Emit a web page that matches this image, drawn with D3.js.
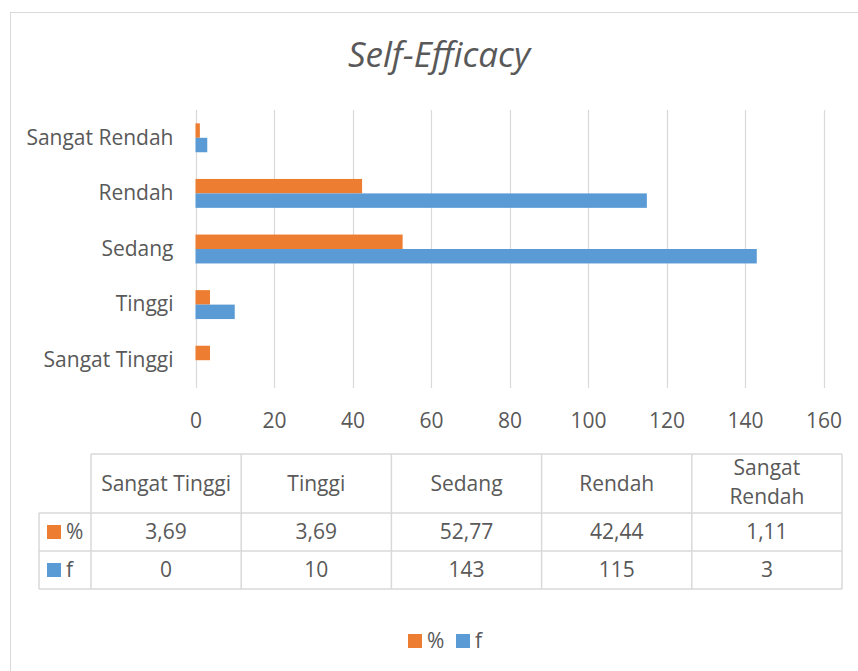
<!DOCTYPE html>
<html>
<head>
<meta charset="utf-8">
<script src="https://cdn.jsdelivr.net/npm/d3@7"></script>
<style>
  body { margin: 0; background: #fff; }
  text { font-family: "Open Sans", sans-serif; fill: #595959; }
</style>
</head>
<body>
<div id="chart"></div>
<script>
// data (table order, as in the Excel sheet)
const categories = ["Sangat Tinggi", "Tinggi", "Sedang", "Rendah", "Sangat Rendah"];
const seriesNames = ["%", "f"];
const percentValues = [3.69, 3.69, 52.77, 42.44, 1.11];
const freqValues = [0, 10, 143, 115, 3];
const percentLabels = ["3,69", "3,69", "52,77", "42,44", "1,11"];
const freqLabels = ["0", "10", "143", "115", "3"];
const xTicks = [0, 20, 40, 60, 80, 100, 120, 140, 160];
const colors = ["#ED7D31", "#5B9BD5"];

const width = 858, height = 671;
const fs = 21;
const svg = d3.select("#chart").append("svg")
    .attr("width", width)
    .attr("height", height);

// chart border (runs past the right / bottom edge)
svg.append("rect")
    .attr("x", 10.5).attr("y", 12.5)
    .attr("width", 870).attr("height", 680)
    .attr("fill", "#fff")
    .attr("stroke", "#d9d9d9");

svg.append("text")
    .attr("x", 439).attr("y", 67)
    .attr("text-anchor", "middle")
    .attr("font-size", 35)
    .attr("font-style", "italic")
    .text("Self-Efficacy");

const plot = { left: 195.5, right: 823.5, top: 110, bottom: 388 };

const x = d3.scaleLinear()
    .domain([0, 160])
    .range([plot.left, plot.right]);

// top to bottom is reverse of table order
const y = d3.scaleBand()
    .domain(categories.slice().reverse())
    .range([plot.top, plot.bottom])
    .paddingInner(0.48)
    .paddingOuter(0.24);

const ySeries = d3.scaleBand()
    .domain(seriesNames)
    .range([0, y.bandwidth()]);

// gridlines
svg.append("g")
    .selectAll("line")
    .data(xTicks)
    .join("line")
    .attr("x1", d => Math.round(x(d)) + 0.5)
    .attr("x2", d => Math.round(x(d)) + 0.5)
    .attr("y1", plot.top)
    .attr("y2", plot.bottom)
    .attr("stroke", "#d9d9d9")
    .attr("stroke-width", 1.2);

// x axis labels
const xAxis = d3.axisBottom(x).tickValues(xTicks).tickSize(0).tickPadding(0);
const gx = svg.append("g")
    .attr("transform", `translate(0, ${plot.bottom + 25})`)
    .call(xAxis);
gx.select(".domain").remove();
gx.selectAll("text")
    .attr("font-size", fs)
    .attr("font-family", "Open Sans")
    .attr("fill", "#595959");

// category labels
const yAxis = d3.axisLeft(y).tickSize(0).tickPadding(22);
const gy = svg.append("g")
    .attr("transform", `translate(${plot.left}, 0)`)
    .call(yAxis);
gy.select(".domain").remove();
gy.selectAll("text")
    .attr("font-size", fs)
    .attr("font-family", "Open Sans")
    .attr("fill", "#595959");

// bars
const series = [percentValues, freqValues];
series.forEach((vals, si) => {
    svg.append("g")
        .selectAll("rect")
        .data(categories.map((c, i) => ({ c, v: vals[i] })))
        .join("rect")
        .attr("x", x(0))
        .attr("y", d => y(d.c) + ySeries(seriesNames[si]))
        .attr("width", d => x(d.v) - x(0))
        .attr("height", ySeries.bandwidth())
        .attr("fill", colors[si]);
});

// data table
const tbl = { left: 39, keyRight: 91, right: 842, top: 454, head: 513, row1: 551, row2: 589 };
const col = d3.scaleBand()
    .domain(categories)
    .range([tbl.keyRight, tbl.right]);

const grid = svg.append("g").attr("stroke", "#d9d9d9").attr("stroke-width", 1.5);
grid.append("line").attr("x1", tbl.keyRight).attr("x2", tbl.right).attr("y1", tbl.top).attr("y2", tbl.top);
[tbl.head, tbl.row1, tbl.row2].forEach(yy => {
    grid.append("line").attr("x1", tbl.left).attr("x2", tbl.right).attr("y1", yy).attr("y2", yy);
});
grid.append("line").attr("x1", tbl.left).attr("x2", tbl.left).attr("y1", tbl.head).attr("y2", tbl.row2);
grid.selectAll(".vl")
    .data(categories.map(c => col(c)).concat([tbl.right]))
    .join("line")
    .attr("x1", d => d).attr("x2", d => d)
    .attr("y1", tbl.top).attr("y2", tbl.row2);

// header cells, wrap onto two lines if too wide
const head = svg.append("g");
categories.forEach(c => {
    const cx = col(c) + col.bandwidth() / 2;
    const t = head.append("text")
        .attr("x", cx).attr("y", 491)
        .attr("text-anchor", "middle")
        .attr("font-size", fs)
        .text(c);
    if (t.node().getComputedTextLength() > col.bandwidth() - 10) {
        t.remove();
        c.split(" ").forEach((w, i) => {
            head.append("text")
                .attr("x", cx).attr("y", 475 + i * 29)
                .attr("text-anchor", "middle")
                .attr("font-size", fs)
                .text(w);
        });
    }
});

// value rows
const rows = [
    { key: seriesNames[0], labels: percentLabels, y0: tbl.head, y1: tbl.row1 },
    { key: seriesNames[1], labels: freqLabels, y0: tbl.row1, y1: tbl.row2 }
];
rows.forEach((r, ri) => {
    const mid = (r.y0 + r.y1) / 2;
    svg.append("rect")
        .attr("x", 47).attr("y", mid - 7)
        .attr("width", 14).attr("height", 14)
        .attr("fill", colors[ri]);
    svg.append("text")
        .attr("x", 66).attr("y", mid + 7)
        .attr("font-size", fs)
        .text(r.key);
    svg.append("g")
        .selectAll("text")
        .data(categories.map((c, i) => ({ c, l: r.labels[i] })))
        .join("text")
        .attr("x", d => col(d.c) + col.bandwidth() / 2)
        .attr("y", mid + 7)
        .attr("text-anchor", "middle")
        .attr("font-size", fs)
        .text(d => d.l);
});

// legend
const legendX = [408, 456];
seriesNames.forEach((s, i) => {
    svg.append("rect")
        .attr("x", legendX[i]).attr("y", 634)
        .attr("width", 14).attr("height", 14)
        .attr("fill", colors[i]);
    svg.append("text")
        .attr("x", legendX[i] + 19).attr("y", 648)
        .attr("font-size", fs)
        .text(s);
});
</script>
</body>
</html>
